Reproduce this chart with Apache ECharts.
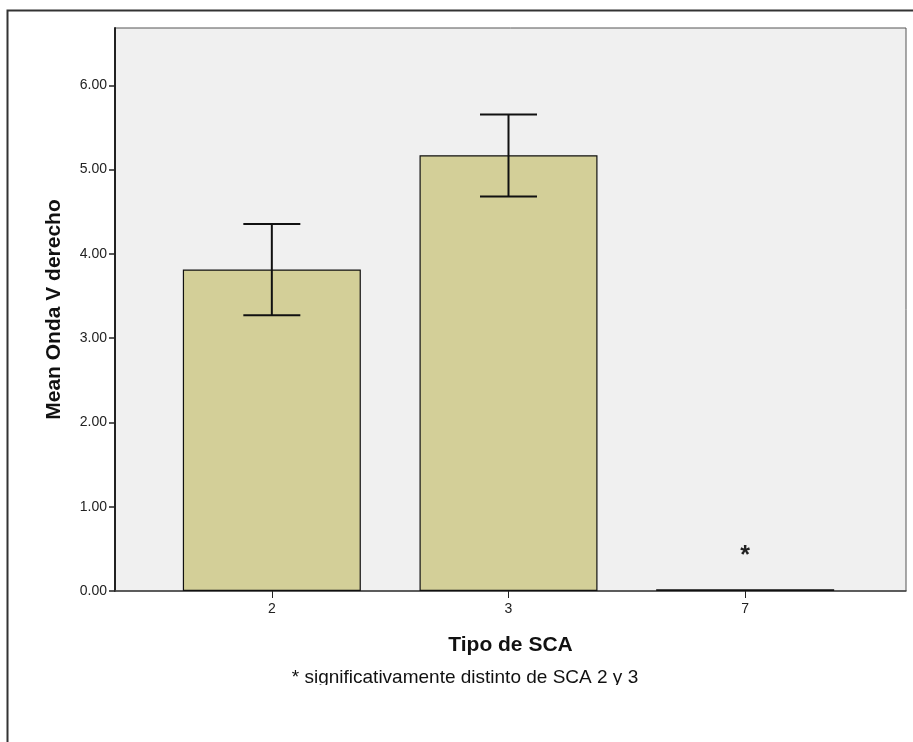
<!DOCTYPE html>
<html>
<head>
<meta charset="utf-8">
<script src="https://cdn.jsdelivr.net/npm/echarts@6/dist/echarts.min.js"></script>
<style>
html,body{margin:0;padding:0;background:#fff;}
#chart{width:913px;height:742px;}
</style>
</head>
<body>
<div id="chart"></div>
<script>
const categories = ['2', '3', '7'];
const means = [3.815, 5.17, 0.02];
const errLow = [3.273, 4.68, 0.02];
const errHigh = [4.355, 5.653, 0.02];
const yTicks = [0, 1, 2, 3, 4, 5, 6];
const yMax = 6.68;
const starLabels = ['', '', '*'];
const yTitle = 'Mean Onda V derecho';
const xTitle = 'Tipo de SCA';
const footnote = '* significativamente distinto de SCA 2 y 3';

const FONT = '"Liberation Sans", Arial, sans-serif';
const chart = echarts.init(document.getElementById('chart'), null, {renderer: 'canvas'});

const errData = categories.map((c, i) => [i, errLow[i], errHigh[i]]);

const option = {
  backgroundColor: '#ffffff',
  animation: false,
  grid: [
    {left: 115, top: 28, width: 791, height: 563, show: true, backgroundColor: '#f0f0f0', borderColor: '#555', borderWidth: 1},
    {left: 153.5, top: 28, width: 710, height: 563}
  ],
  xAxis: [
    {
      gridIndex: 0, type: 'value', min: 0, max: 1,
      axisLine: {show: true, lineStyle: {color: '#444', width: 1.5}},
      axisTick: {show: false}, axisLabel: {show: false}, splitLine: {show: false},
      name: xTitle, nameLocation: 'middle', nameGap: 44,
      nameTextStyle: {fontFamily: FONT, fontSize: 21, fontWeight: 'bold', color: '#111'}
    },
    {
      gridIndex: 1, type: 'category', data: categories,
      axisLine: {show: false},
      axisTick: {show: true, alignWithLabel: true, length: 7, lineStyle: {color: '#222', width: 1}},
      axisLabel: {fontFamily: FONT, fontSize: 14, color: '#222', margin: 11},
      splitLine: {show: false}
    }
  ],
  yAxis: [
    {
      gridIndex: 0, type: 'value', min: 0, max: yMax,
      axisLine: {show: true, lineStyle: {color: '#222', width: 2}},
      axisTick: {show: true, length: 6, customValues: yTicks, lineStyle: {color: '#222', width: 1.5}},
      axisLabel: {customValues: yTicks, formatter: v => v.toFixed(2), fontFamily: FONT, fontSize: 14, color: '#222', margin: 8},
      splitLine: {show: false},
      name: yTitle, nameLocation: 'middle', nameGap: 50,
      nameTextStyle: {fontFamily: FONT, fontSize: 21, fontWeight: 'bold', color: '#111'}
    },
    {
      gridIndex: 1, type: 'value', min: 0, max: yMax,
      axisLine: {show: false}, axisTick: {show: false}, axisLabel: {show: false}, splitLine: {show: false}
    }
  ],
  series: [
    {
      type: 'bar', xAxisIndex: 1, yAxisIndex: 1,
      data: means.map((v, i) => ({
        value: v,
        label: {show: starLabels[i] !== '', formatter: starLabels[i], position: 'top', distance: 21,
          fontFamily: FONT, fontSize: 25, fontWeight: 'bold', color: '#222'}
      })),
      barWidth: 178,
      itemStyle: {color: '#d3cf98', borderColor: '#111', borderWidth: 1.2},
      z: 3
    },
    {
      type: 'custom', xAxisIndex: 1, yAxisIndex: 1,
      data: errData.filter((d, i) => errHigh[i] > errLow[i]),
      renderItem: function (params, api) {
        const x = api.value(0);
        const lo = api.coord([x, api.value(1)]);
        const hi = api.coord([x, api.value(2)]);
        const half = 28.5;
        const st = {stroke: '#111', lineWidth: 2};
        return {
          type: 'group',
          children: [
            {type: 'line', shape: {x1: lo[0], y1: lo[1], x2: hi[0], y2: hi[1]}, style: st},
            {type: 'line', shape: {x1: hi[0] - half, y1: hi[1], x2: hi[0] + half, y2: hi[1]}, style: st},
            {type: 'line', shape: {x1: lo[0] - half, y1: lo[1], x2: lo[0] + half, y2: lo[1]}, style: st}
          ]
        };
      },
      z: 5
    }
  ],
  graphic: [
    {type: 'rect', left: 5, top: 8, shape: {x: 0, y: 0, width: 1000, height: 1000}, style: {fill: 'none', stroke: '#333', lineWidth: 2}, z: 0, silent: true},
    {type: 'text', x: 465, y: 678, style: {text: footnote, fontFamily: FONT, fontSize: 19, fill: '#111', textAlign: 'center', textVerticalAlign: 'middle'}, z: 10},
    {type: 'rect', shape: {x: 12, y: 685, width: 901, height: 57}, style: {fill: '#ffffff'}, z: 11, silent: true}
  ]
};
chart.setOption(option);
</script>
</body>
</html>
